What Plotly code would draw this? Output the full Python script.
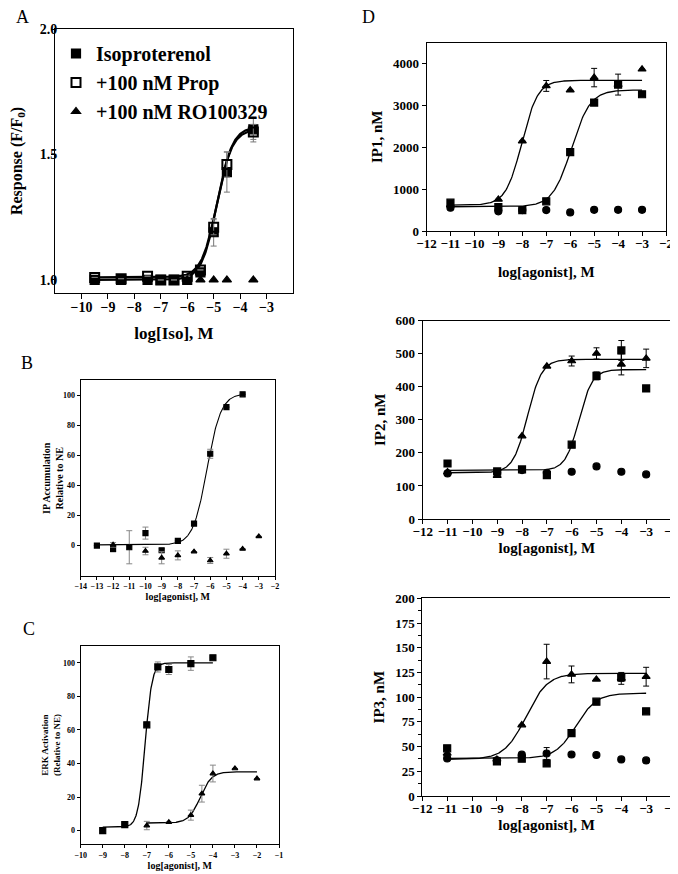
import numpy as np
import plotly.graph_objects as go

# page has an 8px body margin -> figure drawn at (8, 8)
OFF = 8
W, H = 678 - OFF, 874 - OFF
SERIF = "Liberation Serif, Times New Roman, serif"

# ---------------- Panel A ----------------
a_x = [-9.5, -8.5, -7.5, -7, -6.5, -6, -5.5, -5, -4.5, -3.5]
a_iso = [1.0, 1.0, 1.0, 1.0, 1.0, 1.0, 1.03, 1.19, 1.43, 1.60]
a_iso_err = [0, 0, 0, 0, 0, 0, 0.01, 0.055, 0.08, 0.05]
a_prop = [1.01, 1.005, 1.015, 1.0, 1.0, 1.015, 1.04, 1.21, 1.46, 1.59]
a_prop_err = [0, 0, 0, 0, 0, 0, 0, 0.03, 0.05, 0.03]
a_ro_x = [-6, -5.5, -5, -4.5, -3.5]
a_ro = [1.0, 1.0, 1.0, 1.0, 1.0]
a_fit_iso = (1.0, 1.61, -4.87, 1.5)
a_fit_prop = (1.01, 1.60, -4.88, 1.5)
a_xticks = [-10, -9, -8, -7, -6, -5, -4, -3]
a_yticks = [1.0, 1.5, 2.0]

# ---------------- Panel B ----------------
b_sq_x = [-13, -12, -11, -10, -9, -8, -7, -6, -5, -4]
b_sq = [0, -2.2, -1.1, 8.3, -3.1, 3.1, 14.6, 61, 92, 100.5]
b_sq_err = [0, 2, 11, 4, 1, 0, 0, 3, 0, 0]
b_tri_x = [-12, -10, -9, -8, -7, -6, -5, -4, -3]
b_tri = [0.5, -3.6, -8.1, -6.5, -4.0, -9.9, -5.4, -2.2, 6.1]
b_tri_err = [1.5, 2.5, 4, 3, 0, 2, 3, 0, 0]
b_fit_sq = (0.5, 101, -6.2, 1.0)
b_xticks = list(range(-14, -1))
b_yticks = [0, 20, 40, 60, 80, 100]

# ---------------- Panel C ----------------
c_sq_x = [-9, -8, -7, -6.5, -6, -5, -4]
c_sq = [0, 3.5, 63, 97.5, 96, 99.5, 103]
c_sq_err = [0, 0, 0, 3, 3, 4, 0]
c_tri_x = [-7, -6, -5, -4.5, -4, -3, -2]
c_tri = [3, 5, 9.2, 22, 34, 37, 31]
c_tri_err = [2.5, 0, 3, 5, 5, 0, 0]
c_fit_sq = (2, 100, -7.08, 2.73)
c_fit_tri = (4.5, 35, -4.58, 1.67)
c_xticks = list(range(-10, 0))
c_yticks = [0, 20, 40, 60, 80, 100]

# ---------------- Panel D ----------------
d_x = [-11, -9, -8, -7, -6, -5, -4, -3]
d1_sq = [676, 572, 501, 708, 1885, 3070, 3499, 3268]
d1_sq_err = [0, 0, 0, 0, 0, 0, 250, 0]
d1_tri = [620, 755, 2147, 3467, 3364, 3666, 3500, 3865]
d1_tri_err = [0, 0, 0, 130, 0, 220, 0, 0]
d1_cir = [557, 469, 500, 501, 445, 505, 505, 505]
d1_fit_sq = (580, 3370, -5.95, 1.1)
d1_fit_tri = (620, 3600, -8.02, 1.3)
d1_yticks = [0, 1000, 2000, 3000, 4000]

d2_sq = [168, 144, 150, 133, 225, 433, 510, 395]
d2_sq_err = [0, 0, 0, 0, 0, 12, 30, 0]
d2_tri = [142, 131, 251, 462, 478, 501, 468, 486]
d2_tri_err = [0, 0, 0, 0, 15, 17, 32, 28]
d2_cir = [138, 140, 148, 140, 143, 159, 143, 135]
d2_fit_sq = (147, 452, -5.71, 1.6)
d2_fit_tri = (140, 483, -7.78, 1.5)
d2_yticks = [0, 100, 200, 300, 400, 500, 600]

d3_sq = [48.2, 35, 37.8, 33, 63.7, 95.4, 120, 85.7]
d3_sq_err = [0, 0, 0, 0, 0, 0, 4, 0]
d3_tri = [43, 37, 71.8, 136, 123, 118, 119, 120.7]
d3_tri_err = [0, 0, 0, 17.5, 8.5, 0, 6, 9.5]
d3_cir = [38, 36, 41.8, 43, 42, 41.5, 37, 36]
d3_cir_err = [0, 0, 0, 6, 0, 0, 0, 0]
d3_fit_sq = (38, 104, -5.82, 1.05)
d3_fit_tri = (37, 124, -7.83, 1.0)
d3_yticks = [0, 25, 50, 75, 100, 125, 150, 175, 200]
d_xticks = list(range(-12, -1))


def hill(x, p):
    b, t, ec, n = p
    return b + (t - b) / (1.0 + 10 ** (n * (ec - x)))


fig = go.Figure()


def fx(px):
    return (px - OFF) / W


def fy(py):
    return 1 - (py - OFF) / H


def px_x(a, b):
    return [fx(a), fx(b)]


def px_y(top, bottom):
    return [fy(bottom), fy(top)]


def add_pts(i, x, y, err, symbol, size, ecolor, name=None, legend=False, lw=1.2):
    ax = "" if i == 1 else str(i)
    fig.add_trace(go.Scatter(
        x=x, y=y, mode="markers", name=name, showlegend=legend,
        xaxis="x" + ax, yaxis="y" + ax,
        marker=dict(symbol=symbol, size=size, color="black",
                    line=dict(color="black", width=lw)),
        error_y=(dict(type="data", array=err, color=ecolor, thickness=1, width=3)
                 if err is not None else None),
    ))


def add_fit(i, x0, x1, p, width=1.3):
    ax = "" if i == 1 else str(i)
    xs = np.linspace(x0, x1, 300)
    fig.add_trace(go.Scatter(x=xs, y=hill(xs, p), mode="lines", showlegend=False,
                             xaxis="x" + ax, yaxis="y" + ax,
                             line=dict(color="black", width=width), hoverinfo="skip"))


# Panel A
add_fit(1, a_x[0], a_x[-1], a_fit_iso, 2.2)
add_fit(1, a_x[0], a_x[-1], a_fit_prop, 2.2)
add_pts(1, a_x, a_iso, a_iso_err, "square", 9, "#777", "<b>Isoproterenol</b>", True)
add_pts(1, a_x, a_prop, a_prop_err, "square-open", 9, "#777", "<b>+100 nM Prop</b>", True, lw=2)
add_pts(1, a_ro_x, a_ro, None, "triangle-up", 8, "#777", "<b>+100 nM RO100329</b>", True)

# Panel B
add_fit(2, -13, -4, b_fit_sq, 1.1)
add_pts(2, b_sq_x, b_sq, b_sq_err, "square", 5, "#888")
add_pts(2, b_tri_x, b_tri, b_tri_err, "triangle-up", 5, "#888")

# Panel C
add_fit(3, -9, -4, c_fit_sq, 1.3)
add_fit(3, -7, -2, c_fit_tri, 1.3)
add_pts(3, c_sq_x, c_sq, c_sq_err, "square", 6, "#888")
add_pts(3, c_tri_x, c_tri, c_tri_err, "triangle-up", 5, "#888")

# Panel D
for k, (sq, sqe, tri, trie, cir, cire, fs, ft) in enumerate([
        (d1_sq, d1_sq_err, d1_tri, d1_tri_err, d1_cir, None, d1_fit_sq, d1_fit_tri),
        (d2_sq, d2_sq_err, d2_tri, d2_tri_err, d2_cir, None, d2_fit_sq, d2_fit_tri),
        (d3_sq, d3_sq_err, d3_tri, d3_tri_err, d3_cir, d3_cir_err, d3_fit_sq, d3_fit_tri)]):
    i = 4 + k
    add_fit(i, -11, -3, fs, 1.3)
    add_fit(i, -11, -3, ft, 1.3)
    add_pts(i, d_x, cir, cire, "circle", 7, "black")
    add_pts(i, d_x, sq, sqe, "square", 7, "black")
    add_pts(i, d_x, tri, trie, "triangle-up", 7, "black")


def axis(domain, rng, tickvals, fs, ticklen=4, title=None, tsize=None, standoff=None,
         minor=None, lstand=0):
    d = dict(domain=domain, range=rng, tickvals=tickvals, showline=True, mirror=True,
             linecolor="black", linewidth=1, ticks="outside", ticklen=ticklen,
             tickcolor="black", showgrid=False, zeroline=False, automargin=False,
             ticklabelstandoff=lstand,
             tickfont=dict(family=SERIF, size=fs, color="black", weight="bold"))
    if title:
        d["title"] = dict(text=title, font=dict(family=SERIF, size=tsize, color="black",
                                                weight="bold"))
        if standoff is not None:
            d["title"]["standoff"] = standoff
    if minor:
        d["minor"] = minor
    return d


lay = {}
# A
lay["xaxis"] = axis(px_x(55, 293), [-11, -2], a_xticks, 14, 5, "log[Iso], M", 17, 13,
                    lstand=-4)
lay["yaxis"] = axis(px_y(29, 293), [0.948, 2.0], a_yticks, 14, 3,
                    "Response (F/F<sub>0</sub>)", 16, 16, lstand=-9)
lay["yaxis"]["tickformat"] = ".1f"
# B
lay["xaxis2"] = axis(px_x(80.7, 275), [-14, -2], b_xticks, 8, 3, "log[agonist], M", 10, 2)
lay["yaxis2"] = axis(px_y(380, 575.7), [-20, 110], b_yticks, 8, 3)
lay["xaxis2"]["anchor"] = "y2"
lay["yaxis2"]["anchor"] = "x2"
# C
lay["xaxis3"] = axis(px_x(80.7, 279), [-10, -1], c_xticks, 8, 3, "log[agonist], M", 10, 2)
lay["yaxis3"] = axis(px_y(646, 844), [-8, 110], c_yticks, 8, 3)
lay["xaxis3"]["anchor"] = "y3"
lay["yaxis3"]["anchor"] = "x3"
# D1
lay["xaxis4"] = axis(px_x(426.5, 666), [-12, -2], d_xticks, 13, 4, "log[agonist], M", 15, 16,
                     lstand=-4)
lay["yaxis4"] = axis(px_y(42.7, 231), [0, 4500], d1_yticks, 13, 4, "IP1, nM", 15, 6,
                     lstand=0)
lay["xaxis4"]["anchor"] = "y4"
lay["yaxis4"]["anchor"] = "x4"
# D2
lay["xaxis5"] = axis(px_x(422.7, 671), [-12, -2], d_xticks, 13, 4, "log[agonist], M", 15, 4,
                     lstand=-4)
lay["yaxis5"] = axis(px_y(320.7, 519), [0, 600], d2_yticks, 13, 4, "IP2, nM", 15, 6,
                     lstand=0)
lay["xaxis5"]["anchor"] = "y5"
lay["yaxis5"]["anchor"] = "x5"
# D3
lay["xaxis6"] = axis(px_x(422.3, 671), [-12, -2], d_xticks, 13, 4, "log[agonist], M", 15, 4,
                     lstand=-4)
lay["yaxis6"] = axis(px_y(598.3, 796), [0, 200], d3_yticks, 13, 4, "IP3, nM", 15, 6,
                     minor=dict(dtick=12.5, ticks="outside", ticklen=3, tickcolor="black"),
                     lstand=0)
lay["xaxis6"]["anchor"] = "y6"
lay["yaxis6"]["anchor"] = "x6"

panel_letters = ["A", "B", "C", "D"]
letter_pos = [(22, 17), (27, 363), (29, 629), (368, 17)]
ann = []
for t, (x, y) in zip(panel_letters, letter_pos):
    ann.append(dict(text=t, x=fx(x), y=fy(y), xref="paper", yref="paper",
                    showarrow=False, xanchor="center", yanchor="middle",
                    font=dict(family=SERIF, size=18, color="black")))

# rotated two-line y titles of panels B and C
side_titles = ["IP Accumulation<br>Relative to NE", "ERK Activation<br>(Relative to NE)"]
side_pos = [(53, 478, 10), (51, 745, 9)]
for t, (x, y, s) in zip(side_titles, side_pos):
    ann.append(dict(text=t, x=fx(x), y=fy(y), xref="paper", yref="paper",
                    showarrow=False, xanchor="center", yanchor="middle", textangle=-90,
                    font=dict(family=SERIF, size=s, color="black", weight="bold")))

fig.update_layout(
    width=W, height=H, margin=dict(l=0, r=0, t=0, b=0),
    paper_bgcolor="white", plot_bgcolor="white",
    annotations=ann,
    legend=dict(x=fx(56), y=fy(34), xanchor="left", yanchor="top",
                bgcolor="rgba(0,0,0,0)", borderwidth=0,
                font=dict(family=SERIF, size=20, color="black"),
                tracegroupgap=0, itemwidth=30),
    **lay,
)

fig.write_html("out.html")
